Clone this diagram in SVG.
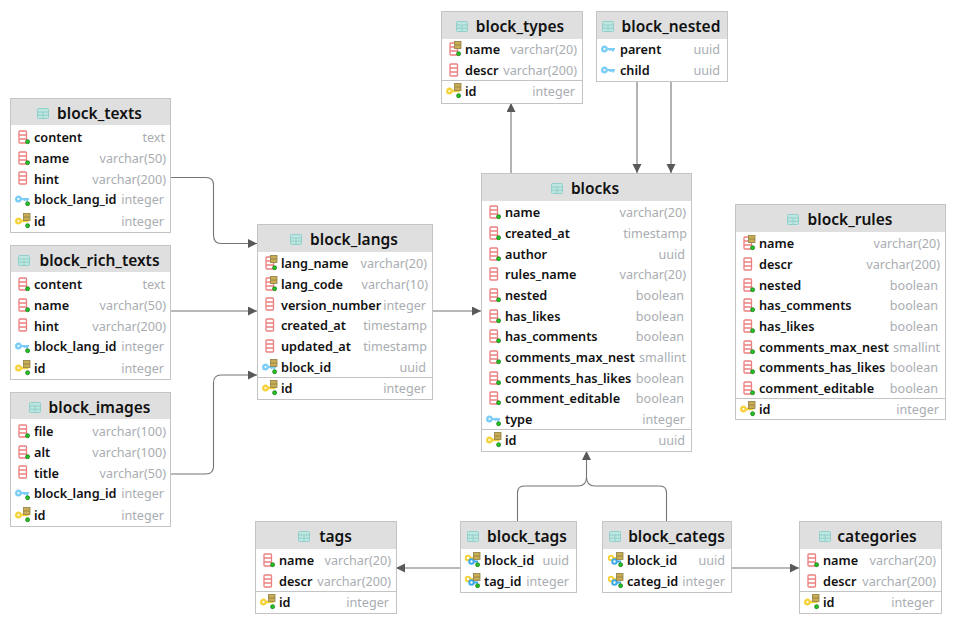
<svg xmlns="http://www.w3.org/2000/svg" width="957" height="626" viewBox="0 0 957 626">
<style>
text{font-family:"Noto Sans","DejaVu Sans",sans-serif}
.box{fill:#fff;stroke:#c4c4c4;stroke-width:1}
.hd{fill:#dfdfdf}
.sep{stroke:#c4c4c4;stroke-width:1;fill:none}
.t{font-size:15.500px;font-weight:600;fill:#111;text-anchor:middle}
.n{font-size:12.700px;font-weight:600;fill:#111}
.y{font-size:12.600px;fill:#a9adb2;text-anchor:end}
.c{fill:none;stroke:#757575;stroke-width:1.100}
.a{fill:#595959}
</style>
<defs>
<g id="tbl"><rect x=".5" y=".5" width="11" height="10" rx="1" fill="#bfe5e1" stroke="#8fd0ca" stroke-width="1"/><path d="M.5 4H11.500M6 4V10.500M.5 7.200H11.500" stroke="#8fd0ca" stroke-width="1" fill="none"/></g>
<g id="col"><rect x="-4" y="-6" width="7.500" height="12" rx="1" fill="#fff" stroke="#ec7f7f" stroke-width="1.300"/><path d="M-4 -2H3.500M-4 2H3.500" stroke="#ec7f7f" stroke-width="1.300"/></g>
<circle id="dot" cx="4.600" cy="4.700" r="2" fill="#23c423" stroke="#0c6b0c" stroke-width=".7"/>
<g id="idx"><rect x=".5" y="-7.500" width="6.500" height="7" fill="#c9ad55" stroke="#8f7f45" stroke-width=".8"/><path d="M.5 -4H7" stroke="#8f7f45" stroke-width=".8"/></g>
<g id="pkk"><circle cx="-4.500" cy="0" r="2.300" fill="#fff" stroke="#f6d23c" stroke-width="2.400"/><path d="M-2 0H5.500" stroke="#f6d23c" stroke-width="2.400"/></g>
<g id="fkk"><circle cx="-4.500" cy="0" r="2.300" fill="#fff" stroke="#7ccdf7" stroke-width="2.400"/><path d="M-2 0H6M4 0V2.500M1.500 0V2" stroke="#7ccdf7" stroke-width="2"/></g>
<g id="c0"><use href="#col"/></g>
<g id="c1"><use href="#col"/><use href="#dot"/></g>
<g id="cu"><use href="#col"/><use href="#idx"/><use href="#dot"/></g>
<g id="pk"><use href="#pkk"/><use href="#idx"/><use href="#dot"/></g>
<g id="fk"><use href="#fkk"/></g>
<g id="fk1"><use href="#fkk"/><use href="#dot"/></g>
<g id="fku"><use href="#fkk"/><use href="#idx"/><use href="#dot"/></g>
<g id="pf"><g transform="translate(0,-2)"><circle cx="-5" cy="0" r="2.200" fill="#fff" stroke="#f6d23c" stroke-width="2"/><path d="M-3 0H1" stroke="#f6d23c" stroke-width="2"/></g><circle cx="-1.500" cy="1.500" r="2.200" fill="#fff" stroke="#3ba8e8" stroke-width="2"/><path d="M.5 1.500H5" stroke="#3ba8e8" stroke-width="2"/><use href="#idx"/><use href="#dot"/></g>
<marker id="arr" markerUnits="userSpaceOnUse" markerWidth="10" markerHeight="10" refX="9" refY="4.500" orient="auto"><path d="M0 0L9 4.500L0 9Z" class="a"/></marker>
</defs>

<g id="connectors">
<path class="c" marker-end="url(#arr)" d="M170 177.500H206Q213.500 177.500 213.500 185V235Q213.500 243.500 221 243.500H257"/>
<path class="c" marker-end="url(#arr)" d="M170 311H257"/>
<path class="c" marker-end="url(#arr)" d="M170 474H206Q213.500 474 213.500 466V383Q213.500 375 221 375H257"/>
<path class="c" marker-end="url(#arr)" d="M432 311H481"/>
<path class="c" marker-end="url(#arr)" d="M511 173V103"/>
<path class="c" marker-end="url(#arr)" d="M637 81V173"/>
<path class="c" marker-end="url(#arr)" d="M671 81V173"/>
<path class="c" marker-end="url(#arr)" d="M517.500 521V493Q517.500 486 524 486H578Q586.500 486 586.500 477V451"/>
<path class="c" d="M666.500 521V493Q666.500 486 660 486H595Q586.500 486 586.500 477"/>
<path class="c" marker-end="url(#arr)" d="M460 568H396"/>
<path class="c" marker-end="url(#arr)" d="M731 568H799"/>
</g>

<g id="block_texts">
<rect class="box" x="10.500" y="98.500" width="160" height="134"/><rect class="hd" x="11" y="99" width="159" height="26"/>
<use href="#tbl" x="37" y="108"/><text class="t" x="99.500" y="119">block_texts</text>
<use href="#c1" x="23" y="137"/><text class="n" x="34" y="142">content</text><text class="y" x="165" y="142">text</text>
<use href="#c1" x="23" y="158"/><text class="n" x="34" y="163">name</text><text class="y" x="166" y="163">varchar(50)</text>
<use href="#c0" x="23" y="178"/><text class="n" x="34" y="184">hint</text><text class="y" x="166" y="184">varchar(200)</text>
<use href="#fk1" x="23" y="199"/><text class="n" x="34" y="204">block_lang_id</text><text class="y" x="164" y="204">integer</text>
<use href="#pk" x="23" y="221"/><text class="n" x="34" y="226">id</text><text class="y" x="164" y="226">integer</text>
</g>
<g id="block_rich_texts">
<rect class="box" x="10.500" y="245.500" width="160" height="134"/><rect class="hd" x="11" y="246" width="159" height="26"/>
<use href="#tbl" x="18" y="255"/><text class="t" x="99.500" y="266">block_rich_texts</text>
<use href="#c1" x="23" y="284"/><text class="n" x="34" y="289">content</text><text class="y" x="165" y="289">text</text>
<use href="#c1" x="23" y="305"/><text class="n" x="34" y="310">name</text><text class="y" x="166" y="310">varchar(50)</text>
<use href="#c0" x="23" y="325"/><text class="n" x="34" y="331">hint</text><text class="y" x="166" y="331">varchar(200)</text>
<use href="#fk1" x="23" y="346"/><text class="n" x="34" y="351">block_lang_id</text><text class="y" x="164" y="351">integer</text>
<use href="#pk" x="23" y="368"/><text class="n" x="34" y="373">id</text><text class="y" x="164" y="373">integer</text>
</g>
<g id="block_images">
<rect class="box" x="10.500" y="392.500" width="160" height="134"/><rect class="hd" x="11" y="393" width="159" height="26"/>
<use href="#tbl" x="29" y="402"/><text class="t" x="99.500" y="413">block_images</text>
<use href="#c1" x="23" y="431"/><text class="n" x="34" y="436">file</text><text class="y" x="166" y="436">varchar(100)</text>
<use href="#c1" x="23" y="452"/><text class="n" x="34" y="457">alt</text><text class="y" x="166" y="457">varchar(100)</text>
<use href="#c0" x="23" y="472"/><text class="n" x="34" y="478">title</text><text class="y" x="166" y="478">varchar(50)</text>
<use href="#fk1" x="23" y="493"/><text class="n" x="34" y="498">block_lang_id</text><text class="y" x="164" y="498">integer</text>
<use href="#pk" x="23" y="515"/><text class="n" x="34" y="520">id</text><text class="y" x="164" y="520">integer</text>
</g>
<g id="block_langs">
<rect class="box" x="257.500" y="224.500" width="175" height="175"/><rect class="hd" x="258" y="225" width="174" height="27"/>
<use href="#tbl" x="290" y="234"/><text class="t" x="354" y="245">block_langs</text>
<use href="#cu" x="270" y="263"/><text class="n" x="281" y="268">lang_name</text><text class="y" x="427" y="268">varchar(20)</text>
<use href="#cu" x="270" y="284"/><text class="n" x="281" y="289">lang_code</text><text class="y" x="428" y="289">varchar(10)</text>
<use href="#c0" x="270" y="304"/><text class="n" x="281" y="310">version_number</text><text class="y" x="426" y="310">integer</text>
<use href="#c0" x="270" y="325"/><text class="n" x="281" y="330">created_at</text><text class="y" x="427" y="330">timestamp</text>
<use href="#c0" x="270" y="346"/><text class="n" x="281" y="351">updated_at</text><text class="y" x="427" y="351">timestamp</text>
<use href="#fku" x="270" y="367"/><text class="n" x="281" y="372">block_id</text><text class="y" x="426" y="372">uuid</text>
<path class="sep" d="M258 377.500H432"/>
<use href="#pk" x="270" y="388"/><text class="n" x="281" y="393">id</text><text class="y" x="426" y="393">integer</text>
</g>
<g id="block_types">
<rect class="box" x="441.500" y="11.500" width="141" height="92"/><rect class="hd" x="442" y="12" width="140" height="27"/>
<use href="#tbl" x="456" y="21"/><text class="t" x="520" y="32">block_types</text>
<use href="#cu" x="454" y="49"/><text class="n" x="465" y="54">name</text><text class="y" x="577" y="54">varchar(20)</text>
<use href="#c0" x="454" y="70"/><text class="n" x="465" y="75">descr</text><text class="y" x="577" y="75">varchar(200)</text>
<path class="sep" d="M442 80.500H582"/>
<use href="#pk" x="454" y="91"/><text class="n" x="465" y="96">id</text><text class="y" x="575" y="96">integer</text>
</g>
<g id="block_nested">
<rect class="box" x="596.500" y="11.500" width="131" height="70"/><rect class="hd" x="597" y="12" width="130" height="27"/>
<use href="#tbl" x="602" y="21"/><text class="t" x="671" y="32">block_nested</text>
<use href="#fk" x="609" y="49"/><text class="n" x="620" y="54">parent</text><text class="y" x="720" y="54">uuid</text>
<use href="#fk" x="609" y="70"/><text class="n" x="620" y="75">child</text><text class="y" x="720" y="75">uuid</text>
</g>
<g id="blocks">
<rect class="box" x="481.500" y="173.500" width="210" height="278"/><rect class="hd" x="482" y="174" width="209" height="27"/>
<use href="#tbl" x="551" y="183"/><text class="t" x="595" y="194">blocks</text>
<use href="#c1" x="494" y="212"/><text class="n" x="505" y="217">name</text><text class="y" x="686" y="217">varchar(20)</text>
<use href="#c1" x="494" y="233"/><text class="n" x="505" y="238">created_at</text><text class="y" x="687" y="238">timestamp</text>
<use href="#c1" x="494" y="254"/><text class="n" x="505" y="259">author</text><text class="y" x="685" y="259">uuid</text>
<use href="#c0" x="494" y="274"/><text class="n" x="505" y="279">rules_name</text><text class="y" x="686" y="279">varchar(20)</text>
<use href="#c1" x="494" y="295"/><text class="n" x="505" y="300">nested</text><text class="y" x="684" y="300">boolean</text>
<use href="#c1" x="494" y="316"/><text class="n" x="505" y="321">has_likes</text><text class="y" x="684" y="321">boolean</text>
<use href="#c1" x="494" y="336"/><text class="n" x="505" y="341">has_comments</text><text class="y" x="684" y="341">boolean</text>
<use href="#c1" x="494" y="357"/><text class="n" x="505" y="362">comments_max_nest</text><text class="y" x="686" y="362">smallint</text>
<use href="#c1" x="494" y="378"/><text class="n" x="505" y="383">comments_has_likes</text><text class="y" x="684" y="383">boolean</text>
<use href="#c1" x="494" y="398"/><text class="n" x="505" y="403">comment_editable</text><text class="y" x="684" y="403">boolean</text>
<use href="#fk1" x="494" y="419"/><text class="n" x="505" y="424">type</text><text class="y" x="685" y="424">integer</text>
<path class="sep" d="M482 429.500H691"/>
<use href="#pk" x="494" y="440"/><text class="n" x="505" y="445">id</text><text class="y" x="685" y="445">uuid</text>
</g>
<g id="block_rules">
<rect class="box" x="735.500" y="204.500" width="210" height="215"/><rect class="hd" x="736" y="205" width="209" height="27"/>
<use href="#tbl" x="787" y="214"/><text class="t" x="850" y="225">block_rules</text>
<use href="#cu" x="748" y="243"/><text class="n" x="759" y="248">name</text><text class="y" x="940" y="248">varchar(20)</text>
<use href="#c0" x="748" y="264"/><text class="n" x="759" y="269">descr</text><text class="y" x="940" y="269">varchar(200)</text>
<use href="#c1" x="748" y="285"/><text class="n" x="759" y="290">nested</text><text class="y" x="938" y="290">boolean</text>
<use href="#c1" x="748" y="305"/><text class="n" x="759" y="310">has_comments</text><text class="y" x="938" y="310">boolean</text>
<use href="#c1" x="748" y="326"/><text class="n" x="759" y="331">has_likes</text><text class="y" x="938" y="331">boolean</text>
<use href="#c1" x="748" y="347"/><text class="n" x="759" y="352">comments_max_nest</text><text class="y" x="940" y="352">smallint</text>
<use href="#c1" x="748" y="367"/><text class="n" x="759" y="372">comments_has_likes</text><text class="y" x="938" y="372">boolean</text>
<use href="#c1" x="748" y="388"/><text class="n" x="759" y="393">comment_editable</text><text class="y" x="938" y="393">boolean</text>
<path class="sep" d="M736 398.500H945"/>
<use href="#pk" x="748" y="409"/><text class="n" x="759" y="414">id</text><text class="y" x="939" y="414">integer</text>
</g>
<g id="tags">
<rect class="box" x="255.500" y="521.500" width="141" height="92"/><rect class="hd" x="256" y="522" width="140" height="27"/>
<use href="#tbl" x="298" y="531"/><text class="t" x="335.500" y="542">tags</text>
<use href="#c1" x="268" y="560"/><text class="n" x="279" y="565">name</text><text class="y" x="391" y="565">varchar(20)</text>
<use href="#c0" x="268" y="581"/><text class="n" x="279" y="586">descr</text><text class="y" x="391" y="586">varchar(200)</text>
<path class="sep" d="M256 591.500H396"/>
<use href="#pk" x="268" y="602"/><text class="n" x="279" y="607">id</text><text class="y" x="389" y="607">integer</text>
</g>
<g id="block_tags">
<rect class="box" x="460.500" y="521.500" width="116" height="71"/><rect class="hd" x="461" y="522" width="115" height="27"/>
<use href="#tbl" x="467" y="531"/><text class="t" x="527" y="542">block_tags</text>
<use href="#pf" x="473" y="560"/><text class="n" x="484" y="565">block_id</text><text class="y" x="569" y="565">uuid</text>
<use href="#pf" x="473" y="581"/><text class="n" x="484" y="586">tag_id</text><text class="y" x="569" y="586">integer</text>
</g>
<g id="block_categs">
<rect class="box" x="602.500" y="521.500" width="129" height="71"/><rect class="hd" x="603" y="522" width="128" height="27"/>
<use href="#tbl" x="609" y="531"/><text class="t" x="676.500" y="542">block_categs</text>
<use href="#pf" x="616" y="560"/><text class="n" x="627" y="565">block_id</text><text class="y" x="725" y="565">uuid</text>
<use href="#pf" x="616" y="581"/><text class="n" x="627" y="586">categ_id</text><text class="y" x="725" y="586">integer</text>
</g>
<g id="categories">
<rect class="box" x="799.500" y="521.500" width="142" height="92"/><rect class="hd" x="800" y="522" width="141" height="27"/>
<use href="#tbl" x="819" y="531"/><text class="t" x="877" y="542">categories</text>
<use href="#c1" x="812" y="560"/><text class="n" x="823" y="565">name</text><text class="y" x="936" y="565">varchar(20)</text>
<use href="#c0" x="812" y="581"/><text class="n" x="823" y="586">descr</text><text class="y" x="936" y="586">varchar(200)</text>
<path class="sep" d="M800 591.500H941"/>
<use href="#pk" x="812" y="602"/><text class="n" x="823" y="607">id</text><text class="y" x="934" y="607">integer</text>
</g>
</svg>
